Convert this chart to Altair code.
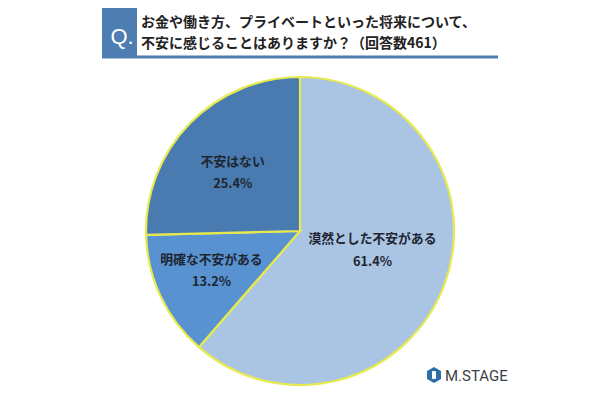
import altair as alt
import pandas as pd

# ---- data ----
categories = ["漠然とした不安がある", "明確な不安がある", "不安はない"]
percents = [61.4, 13.2, 25.4]
slice_colors = ["#AAC4E4", "#5892D0", "#4A7BB0"]
title_lines = ["お金や働き方、プライベートといった将来について、",
               "不安に感じることはありますか？（回答数461）"]
q_mark = "Q."
brand = "M.STAGE"

W, H = 584, 382
OFF = 8
CX, CY = 300 - OFF, 231 - OFF
R = 154
FONT = "Noto Sans CJK JP"

df = pd.DataFrame({"category": categories, "value": percents, "order": list(range(len(categories)))})
df["label"] = [f"{c}\n{v:.1f}%" for c, v in zip(categories, percents)]

theta_scale = alt.Scale(domain=[0, 100])

base = alt.Chart(df).transform_window(
    cum="sum(value)", sort=[alt.SortField("order")], frame=[None, 0]
).transform_calculate(
    start="datum.cum - datum.value",
    mid="datum.cum - datum.value / 2",
).transform_calculate(
    # label placement (style): radius in px and small angular nudges
    r="datum.order == 0 ? 75 : (datum.order == 1 ? 97 : 89)",
    lt="datum.mid + (datum.order == 0 ? -1.55 : (datum.order == 1 ? 0.3 : -0.95))",
)

pie = base.mark_arc(outerRadius=R, stroke="#E6EA50", strokeWidth=2.2).encode(
    theta=alt.Theta("start:Q", scale=theta_scale),
    theta2="cum:Q",
    color=alt.Color("category:N", scale=alt.Scale(domain=categories, range=slice_colors), legend=None),
    x=alt.value(CX), y=alt.value(CY),
)

labels = base.mark_text(font=FONT, fontSize=12.8, fontWeight="bold", color="#1E2530",
                        lineBreak="\n", lineHeight=22.5, align="center", baseline="middle",
                        dy=-11).encode(
    theta=alt.Theta("lt:Q", scale=theta_scale),
    radius=alt.Radius("r:Q", scale=None),
    text="label:N",
    x=alt.value(CX), y=alt.value(CY),
)

one = alt.Chart(pd.DataFrame({"k": [0]}))

qbox = one.mark_rect(color="#4E7DB1").encode(
    x=alt.value(102 - OFF), x2=alt.value(137 - OFF),
    y=alt.value(7 - OFF), y2=alt.value(58 - OFF),
)
underline = one.mark_rule(color="#4E7DB1", strokeWidth=3).encode(
    x=alt.value(102 - OFF), x2=alt.value(498 - OFF), y=alt.value(57 - OFF),
)
qtext = one.mark_text(text=q_mark, font="Liberation Sans", fontSize=22, color="white",
                      align="center", baseline="middle").encode(
    x=alt.value(122 - OFF), y=alt.value(37 - OFF),
)
title_df = pd.DataFrame({"t": title_lines, "i": [0, 1]})
titles = alt.Chart(title_df).transform_calculate(
    yy=f"{23 - OFF} + datum.i * 21"
).mark_text(font=FONT, fontSize=14.0, fontWeight="bold", color="#222222",
            align="left", baseline="middle").encode(
    x=alt.value(141 - OFF),
    y=alt.Y("yy:Q", scale=None, axis=None),
    text="t:N",
)

hexagon = "M0,-1L0.87,-0.5L0.87,0.5L0,1L-0.87,0.5L-0.87,-0.5Z"
inner = "M-0.28,-0.55L0.28,-0.55L0.28,0.55L-0.28,0.55Z"
icon = one.mark_point(shape=hexagon, filled=True, size=260, color="#2F6EA6", opacity=1).encode(
    x=alt.value(434 - OFF), y=alt.value(375 - OFF),
)
icon_in = one.mark_point(shape=inner, filled=True, size=200, color="white", opacity=1).encode(
    x=alt.value(434 - OFF), y=alt.value(375 - OFF),
)
brand_text = one.mark_text(text=brand, font="Roboto", fontSize=15, color="#3A3F47",
                           align="left", baseline="middle").encode(
    x=alt.value(445 - OFF), y=alt.value(376 - OFF),
)

chart = alt.layer(pie, labels, qbox, underline, qtext, titles, icon, icon_in, brand_text).properties(
    width=W, height=H, autosize=alt.AutoSizeParams(type="none"), padding=0,
    background="white",
).configure_view(stroke=None)

chart.save("out.html", embed_options={"renderer": "svg", "actions": False})
